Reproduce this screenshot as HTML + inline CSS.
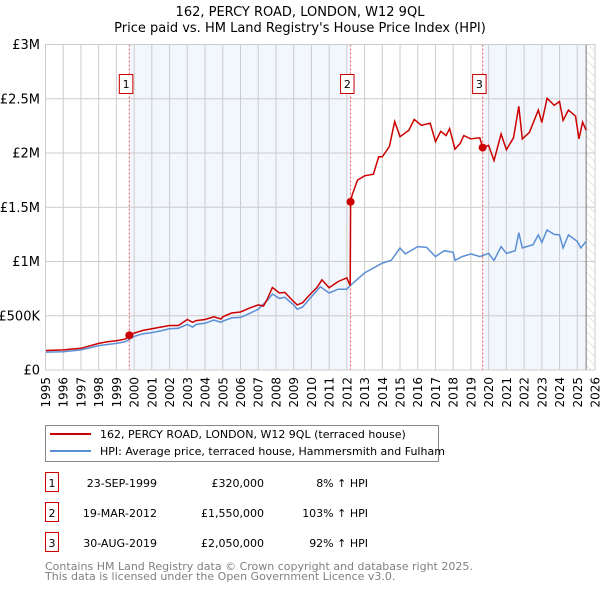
<!DOCTYPE html>
<html><head><meta charset="utf-8"><style>
body{margin:0;background:#fff;font-family:"DejaVu Sans","Liberation Sans",sans-serif;}
svg text{font-family:"DejaVu Sans","Liberation Sans",sans-serif;}
</style></head><body>
<svg id="c" width="600" height="590" xmlns="http://www.w3.org/2000/svg">
<defs><pattern id="hatch" width="6" height="6" patternUnits="userSpaceOnUse" patternTransform="rotate(-45)"><line x1="0" y1="0" x2="0" y2="6" stroke="#ccc" stroke-width="1"/></pattern></defs>
<text x="300" y="16" text-anchor="middle" font-size="13" fill="#000">162, PERCY ROAD, LONDON, W12 9QL</text>
<text x="300" y="32" text-anchor="middle" font-size="13" fill="#000">Price paid vs. HM Land Registry's House Price Index (HPI)</text>
<g id="plot"></g>
<g>
<rect x="45.5" y="425.5" width="393" height="36" fill="#fff" stroke="#888"/>
<line x1="50" y1="434" x2="91" y2="434" stroke="#cc0000" stroke-width="2"/>
<text x="100" y="438" font-size="11">162, PERCY ROAD, LONDON, W12 9QL (terraced house)</text>
<line x1="50" y1="451" x2="91" y2="451" stroke="#5b8fd4" stroke-width="2"/>
<text x="100" y="455" font-size="11">HPI: Average price, terraced house, Hammersmith and Fulham</text>
</g>
<g id="table" font-size="11"></g>
<text x="45" y="570" font-size="11" fill="#808080">Contains HM Land Registry data © Crown copyright and database right 2025.</text>
<text x="45" y="580" font-size="11" fill="#808080">This data is licensed under the Open Government Licence v3.0.</text>
</svg>
<script>
const hpiYears=[1995,1996,1997,1998,1998.5,1999,1999.5,2000,2000.5,2001,2001.5,2002,2002.5,2003,2003.3,2003.5,2004,2004.5,2004.9,2005,2005.5,2006,2006.5,2007,2007.5,2007.8,2008.2,2008.5,2009,2009.2,2009.5,2010,2010.5,2011,2011.5,2012,2012.2,2013,2014,2014.5,2015,2015.3,2016,2016.5,2017,2017.5,2018,2018.1,2018.5,2019,2019.5,2020,2020.3,2020.7,2021,2021.5,2021.7,2021.9,2022.5,2022.8,2023,2023.3,2023.7,2024,2024.2,2024.5,2025,2025.2,2025.5];
const hpiValues=[165,168,185,225,235,245,260,310,335,345,360,380,385,420,395,420,430,460,440,450,480,485,520,560,640,700,660,670,600,560,580,675,768,710,745,745,780,895,985,1010,1125,1070,1137,1130,1045,1100,1085,1010,1045,1070,1045,1075,1010,1137,1075,1100,1265,1125,1155,1245,1175,1290,1250,1245,1125,1245,1185,1125,1185];
const ppYears=[1995,1996,1997,1998,1998.5,1999,1999.5,1999.73,2000,2000.5,2001,2001.5,2002,2002.5,2003,2003.3,2003.5,2004,2004.5,2004.9,2005,2005.5,2006,2006.5,2007,2007.3,2007.5,2007.8,2008.2,2008.5,2009,2009.2,2009.5,2010,2010.3,2010.6,2011,2011.5,2012,2012.19,2012.21,2012.3,2012.6,2013,2013.5,2013.8,2014,2014.4,2014.7,2015,2015.5,2015.8,2016.2,2016.7,2017,2017.3,2017.6,2017.8,2018.1,2018.4,2018.6,2019,2019.5,2019.66,2020,2020.3,2020.7,2021,2021.4,2021.7,2021.9,2022.3,2022.8,2023,2023.3,2023.7,2024,2024.2,2024.5,2024.9,2025.1,2025.3,2025.5];
const ppValues=[180,185,200,245,260,270,285,320,340,365,380,395,410,410,465,440,455,465,490,470,490,525,535,570,600,590,650,760,710,715,630,600,620,710,758,830,758,815,850,780,1550,1615,1750,1790,1805,1965,1965,2060,2290,2150,2210,2310,2255,2275,2105,2200,2160,2225,2035,2090,2160,2130,2140,2050,2070,1930,2175,2030,2140,2430,2130,2190,2395,2280,2505,2440,2475,2300,2395,2340,2130,2285,2210];
const saleYears=[1999.73,2012.21,2019.66];
const saleValues=[320,1550,2050];
const saleLabels=["1","2","3"];
const saleDates=["23-SEP-1999","19-MAR-2012","30-AUG-2019"];
const salePrices=["£320,000","£1,550,000","£2,050,000"];
const saleHpi=["8% ↑ HPI","103% ↑ HPI","92% ↑ HPI"];
const yTicks=[0,500,1000,1500,2000,2500,3000];
const yTickLabels=["£0","£500K","£1M","£1.5M","£2M","£2.5M","£3M"];
const dataEnd=2025.5;

const X0=45.5,X1=595,Y0=370,Y1=44.5;
const x=t=>X0+(t-1995)/(2026-1995)*(X1-X0);
const y=v=>Y0-v/3000*(Y0-Y1);
const NS="http://www.w3.org/2000/svg";
const plot=document.getElementById('plot');
function mk(tag,attrs,parent){const e=document.createElementNS(NS,tag);for(const k in attrs)e.setAttribute(k,attrs[k]);(parent||plot).appendChild(e);return e;}
let bg=mk('rect',{x:X0,y:Y1,width:X1-X0,height:Y0-Y1,fill:'#fff'});


const bands=[[saleYears[0],saleYears[1]],[saleYears[2],dataEnd]];
bands.forEach((b,i)=>{const r=mk('rect',{x:x(b[0]),y:Y1,width:x(b[1])-x(b[0]),height:Y0-Y1,fill:'#eef3fc',opacity:0.75});

});
let h=mk('rect',{x:x(dataEnd),y:Y1,width:X1-x(dataEnd),height:Y0-Y1,fill:'url(#hatch)'});


for(let yr=1995;yr<=2026;yr++){const l=mk('line',{x1:x(yr),x2:x(yr),y1:Y1,y2:Y0,stroke:'#ccc','stroke-width':1});


const t=mk('text',{x:0,y:0,'font-size':12,'text-anchor':'end',transform:`translate(${x(yr)+4.5},${Y0+7}) rotate(-90)`});t.textContent=yr;

}
yTicks.forEach((v,i)=>{const l=mk('line',{x1:X0,x2:X1,y1:y(v),y2:y(v),stroke:'#ccc','stroke-width':1});


const t=mk('text',{x:40,y:y(v)+4.5,'font-size':13,'text-anchor':'end'});t.textContent=yTickLabels[i];

});
let el=mk('line',{x1:x(dataEnd),x2:x(dataEnd),y1:Y1,y2:Y0,stroke:'#777','stroke-width':1});


saleYears.forEach((s,i)=>{const l=mk('line',{x1:x(s),x2:x(s),y1:Y1,y2:Y0,stroke:'#e55','stroke-width':1,'stroke-dasharray':'2,2'});


const r=mk('rect',{x:x(s)-10,y:74.5,width:13.5,height:19,fill:'#fff',stroke:'#cc0000'});


const t=mk('text',{x:x(s)-3.2,y:88,'font-size':11,'text-anchor':'middle'});t.textContent=saleLabels[i];});
const path=(xs,vs)=>xs.map((t,i)=>(i?'L':'M')+x(t).toFixed(1)+','+y(vs[i]).toFixed(1)).join('');
let hp=mk('path',{d:path(hpiYears,hpiValues),fill:'none',stroke:'#5b8fd4','stroke-width':1.5});


let pp=mk('path',{d:path(ppYears,ppValues),fill:'none',stroke:'#cc0000','stroke-width':1.5});


saleYears.forEach((s,i)=>{const c=mk('circle',{cx:x(s),cy:y(saleValues[i]),r:4,fill:'#cc0000'});

});
let fr=mk('rect',{x:X0,y:Y1,width:X1-X0,height:Y0-Y1,fill:'none',stroke:'#ccc'});


const tb=document.getElementById('table');
saleLabels.forEach((lab,i)=>{const cy=483+i*30;
const r=mk('rect',{x:45.5,y:cy-10.5,width:13,height:19,fill:'#fff',stroke:'#cc0000'},tb);


const t0=mk('text',{x:52,y:cy+4,'text-anchor':'middle'},tb);t0.textContent=lab;
const t1=mk('text',{x:157,y:cy+4,'text-anchor':'end'},tb);t1.textContent=saleDates[i];


const t2=mk('text',{x:264,y:cy+4,'text-anchor':'end'},tb);t2.textContent=salePrices[i];


const t3=mk('text',{x:368,y:cy+4,'text-anchor':'end'},tb);t3.textContent=saleHpi[i];

});
</script>
</body></html>
